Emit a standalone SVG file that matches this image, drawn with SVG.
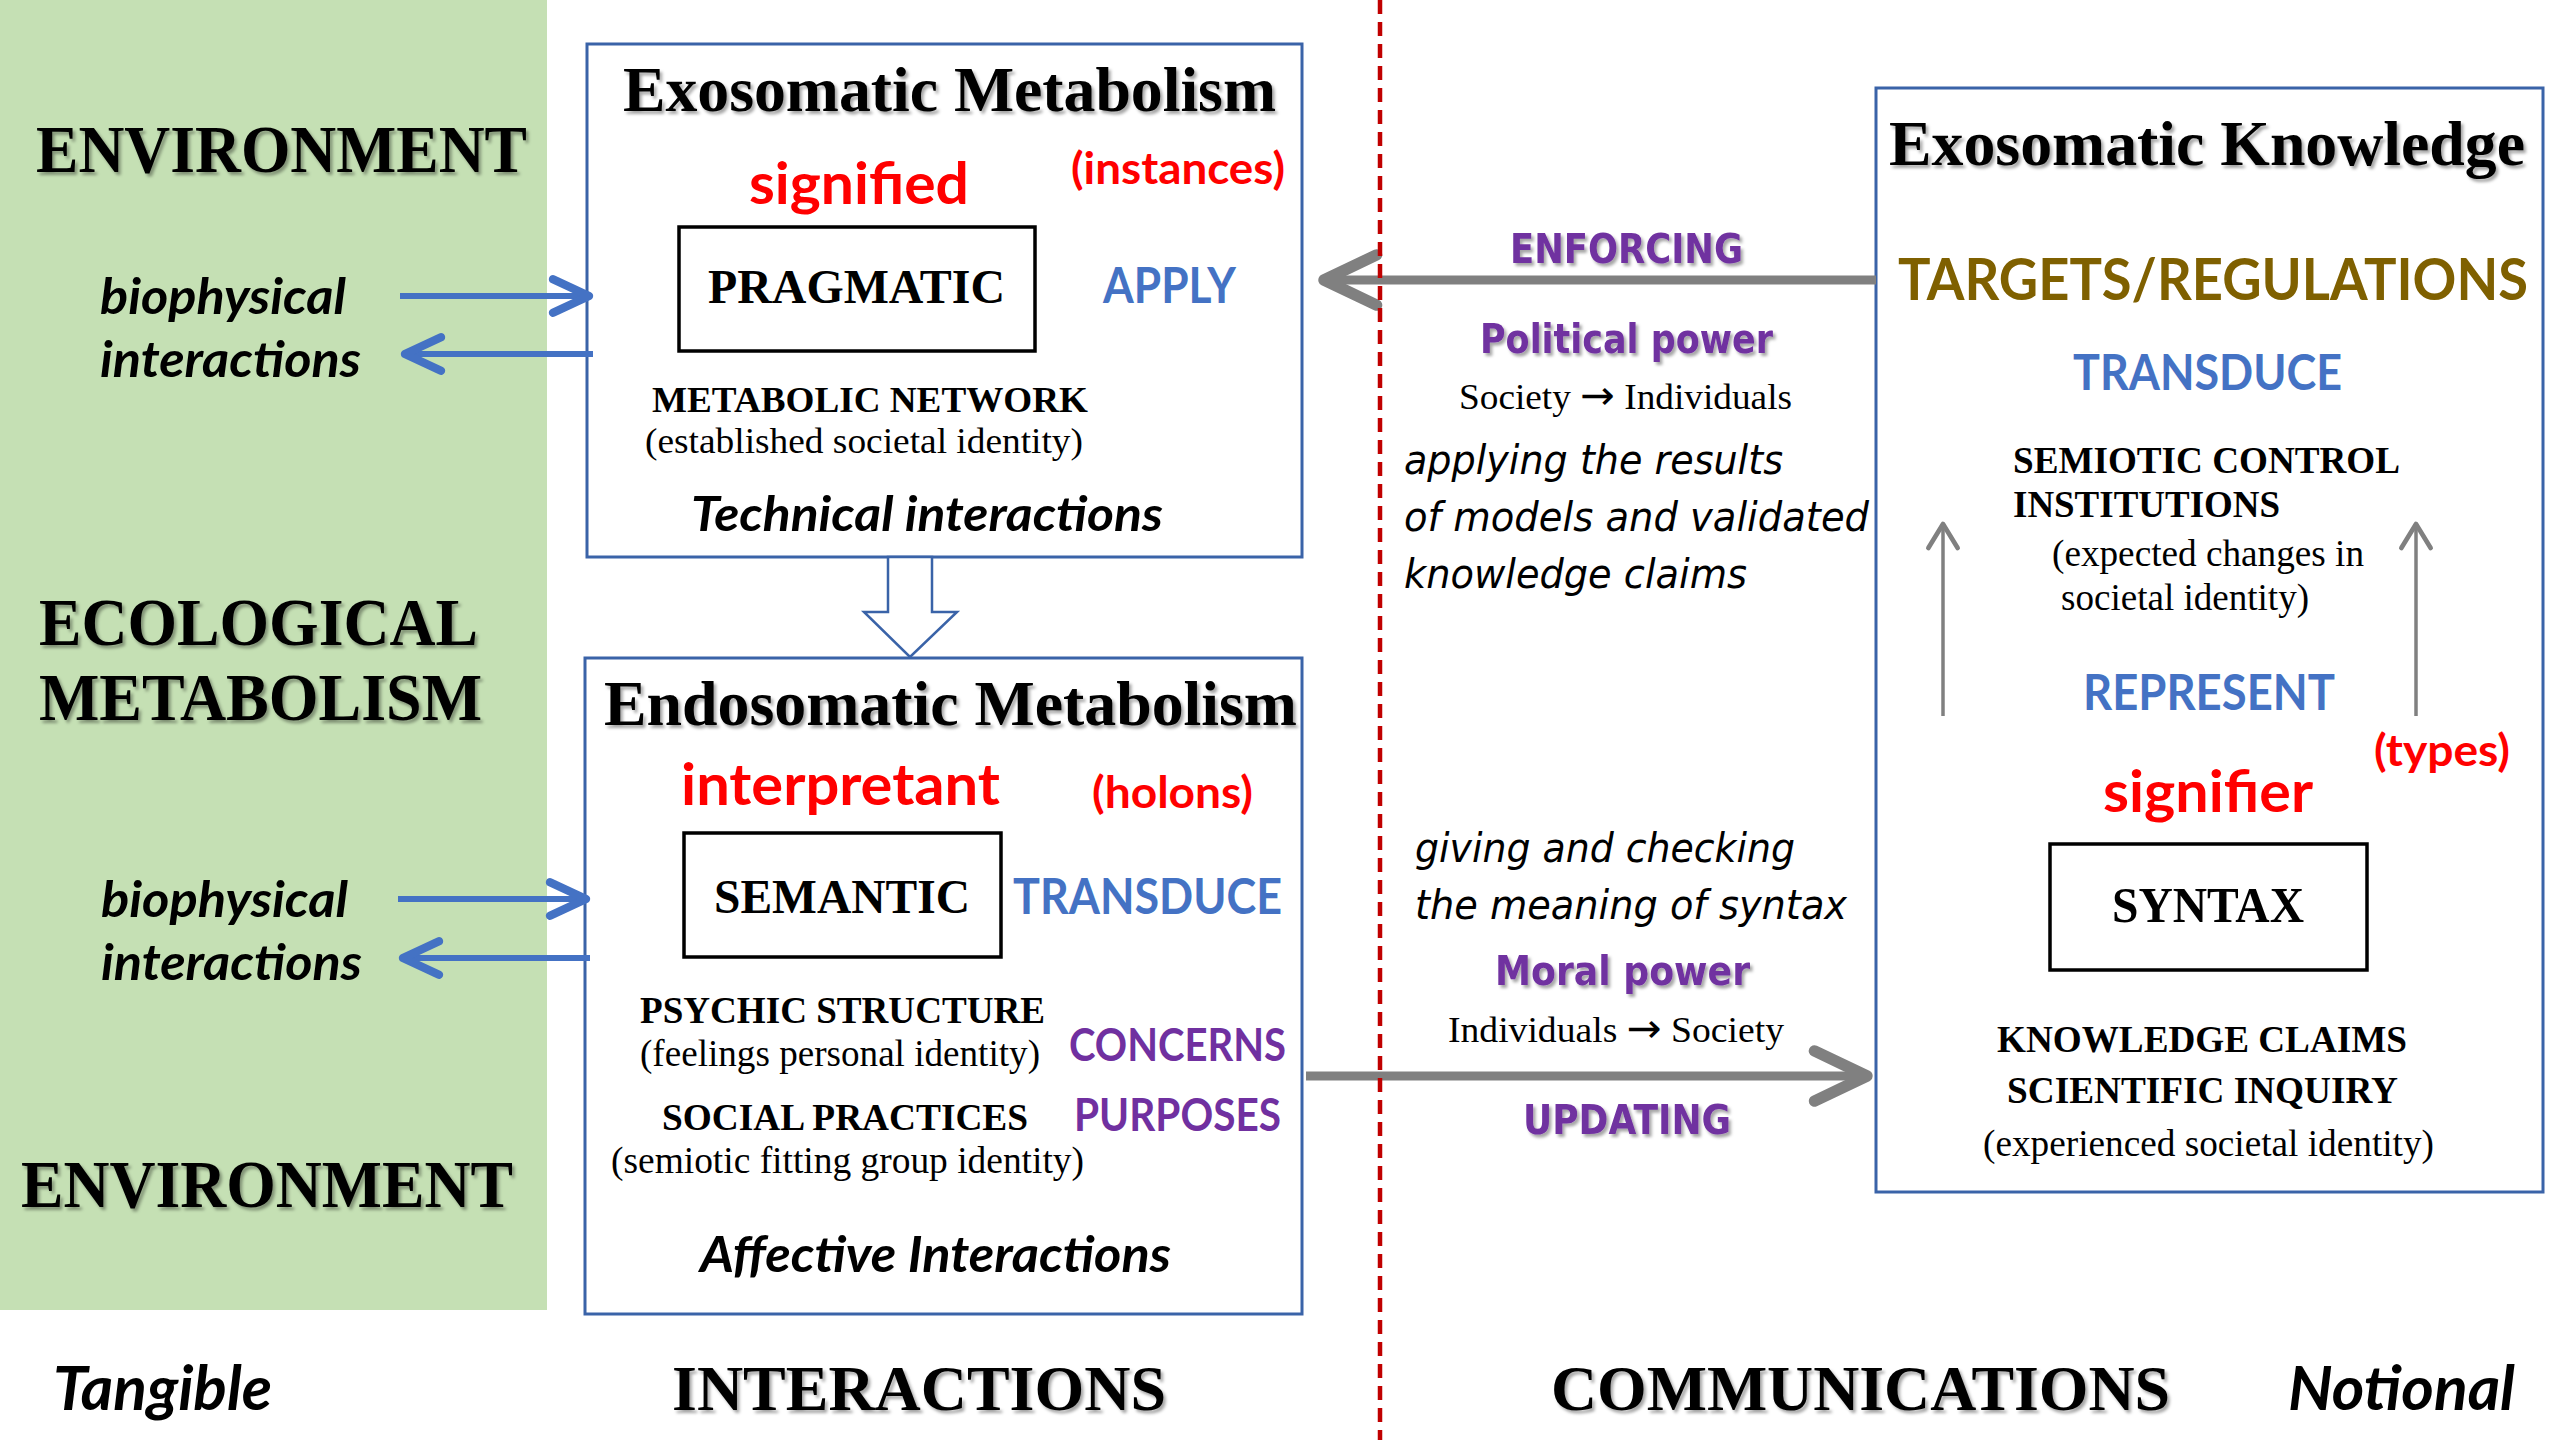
<svg xmlns="http://www.w3.org/2000/svg" width="2560" height="1440" viewBox="0 0 2560 1440">
<style>
text{dominant-baseline:alphabetic}
.sb{font-family:"Liberation Serif","Times New Roman",serif;font-weight:bold;fill:#000}
.sr{font-family:"Liberation Serif","Times New Roman",serif;fill:#000}
.cb{font-family:Lato,"Open Sans",sans-serif;font-weight:bold}
.cbi{font-family:Lato,"Open Sans",sans-serif;font-weight:bold;font-style:italic;fill:#000}
.vb{font-family:"DejaVu Sans",Verdana,sans-serif;font-weight:bold;fill:#7030A0}
.vi{font-family:"DejaVu Sans",Verdana,sans-serif;font-style:italic;fill:#000}
.arr{font-family:"DejaVu Sans",sans-serif;font-size:40px}
.red{fill:#FF0000}
.blue{fill:#4472C4}
.purple{fill:#7030A0}
.olive{fill:#7F6000}
.box{fill:#fff;stroke:#3A63A8;stroke-width:3}
.inner{fill:#fff;stroke:#000;stroke-width:3.5}
.barrow{fill:none;stroke:#4472C4;stroke-width:6}
.garrow{fill:none;stroke:#808080;stroke-width:9}
.gthin{fill:none;stroke:#808080;stroke-width:3.5}
</style>
<defs>
<filter id="sh" x="-5%" y="-20%" width="110%" height="150%">
<feDropShadow dx="2.5" dy="3" stdDeviation="1.5" flood-color="#000" flood-opacity="0.35"/>
</filter>
<marker id="mb" markerUnits="userSpaceOnUse" markerWidth="60" markerHeight="60" viewBox="-40 -20 50 40" refX="0" refY="0" orient="auto" overflow="visible">
<path d="M-30,-14 L0,0 L-30,14" fill="none" stroke="#4472C4" stroke-width="7" stroke-linecap="round" stroke-linejoin="round"/>
</marker>
<marker id="mg" markerUnits="userSpaceOnUse" markerWidth="80" markerHeight="80" viewBox="-60 -30 70 60" refX="0" refY="0" orient="auto" overflow="visible">
<path d="M-46,-22 L0,0 L-46,22" fill="none" stroke="#808080" stroke-width="10" stroke-linecap="round" stroke-linejoin="round"/>
</marker>
<marker id="mt" markerUnits="userSpaceOnUse" markerWidth="40" markerHeight="40" viewBox="-25 -15 30 30" refX="0" refY="0" orient="auto" overflow="visible">
<path d="M-18,-11 L0,0 L-18,11" fill="none" stroke="#808080" stroke-width="3.5" stroke-linecap="round" stroke-linejoin="round"/>
</marker>
</defs>
<rect x="0" y="0" width="2560" height="1440" fill="#fff"/>

<g id="environment-panel">
<rect x="0" y="0" width="547" height="1310" fill="#C5E0B4"/>
<text class="sb" x="36" y="172" font-size="68" textLength="491" lengthAdjust="spacingAndGlyphs" filter="url(#sh)">ENVIRONMENT</text>
<text class="cbi" x="100" y="314" font-size="50" textLength="246" lengthAdjust="spacingAndGlyphs">biophysical</text>
<text class="cbi" x="100" y="377" font-size="50" textLength="261" lengthAdjust="spacingAndGlyphs">interactions</text>
<text class="sb" x="39" y="645" font-size="68" textLength="439" lengthAdjust="spacingAndGlyphs" filter="url(#sh)">ECOLOGICAL</text>
<text class="sb" x="39" y="720" font-size="68" textLength="443" lengthAdjust="spacingAndGlyphs" filter="url(#sh)">METABOLISM</text>
<text class="cbi" x="101" y="917" font-size="50" textLength="247" lengthAdjust="spacingAndGlyphs">biophysical</text>
<text class="cbi" x="101" y="980" font-size="50" textLength="261" lengthAdjust="spacingAndGlyphs">interactions</text>
<text class="sb" x="21" y="1207" font-size="68" textLength="492" lengthAdjust="spacingAndGlyphs" filter="url(#sh)">ENVIRONMENT</text>
</g>

<g id="exosomatic-metabolism">
<rect class="box" x="587" y="44" width="715" height="513"/>
<text class="sb" x="623" y="111" font-size="63" textLength="653" lengthAdjust="spacingAndGlyphs" filter="url(#sh)">Exosomatic Metabolism</text>
<text class="cb red" x="749" y="204" font-size="58" textLength="220" lengthAdjust="spacingAndGlyphs">signified</text>
<text class="cb red" x="1071" y="184" font-size="44" textLength="214" lengthAdjust="spacingAndGlyphs">(instances)</text>
<rect class="inner" x="679" y="227" width="356" height="124"/>
<text class="sb" x="708" y="303" font-size="48" textLength="297" lengthAdjust="spacingAndGlyphs">PRAGMATIC</text>
<text class="cb blue" x="1103" y="303" font-size="50" textLength="133" lengthAdjust="spacingAndGlyphs">APPLY</text>
<text class="sb" x="652" y="412" font-size="36" textLength="436" lengthAdjust="spacingAndGlyphs">METABOLIC NETWORK</text>
<text class="sr" x="645" y="453" font-size="36" textLength="438" lengthAdjust="spacingAndGlyphs">(established societal identity)</text>
<text class="cbi" x="691" y="531" font-size="48" textLength="472" lengthAdjust="spacingAndGlyphs">Technical interactions</text>
</g>

<g id="endosomatic-metabolism">
<rect class="box" x="585" y="658" width="717" height="656"/>
<text class="sb" x="604" y="725" font-size="64" textLength="693" lengthAdjust="spacingAndGlyphs" filter="url(#sh)">Endosomatic Metabolism</text>
<text class="cb red" x="681" y="805" font-size="58" textLength="319" lengthAdjust="spacingAndGlyphs">interpretant</text>
<text class="cb red" x="1092" y="808" font-size="44" textLength="161" lengthAdjust="spacingAndGlyphs">(holons)</text>
<rect class="inner" x="684" y="833" width="317" height="124"/>
<text class="sb" x="714" y="913" font-size="48" textLength="256" lengthAdjust="spacingAndGlyphs">SEMANTIC</text>
<text class="cb blue" x="1013" y="914" font-size="50" textLength="269" lengthAdjust="spacingAndGlyphs">TRANSDUCE</text>
<text class="sb" x="640" y="1023" font-size="38" textLength="405" lengthAdjust="spacingAndGlyphs">PSYCHIC STRUCTURE</text>
<text class="sr" x="640" y="1066" font-size="38" textLength="400" lengthAdjust="spacingAndGlyphs">(feelings personal identity)</text>
<text class="cb purple" x="1069" y="1061" font-size="46" textLength="217" lengthAdjust="spacingAndGlyphs">CONCERNS</text>
<text class="sb" x="662" y="1130" font-size="38" textLength="366" lengthAdjust="spacingAndGlyphs">SOCIAL PRACTICES</text>
<text class="cb purple" x="1074" y="1131" font-size="46" textLength="207" lengthAdjust="spacingAndGlyphs">PURPOSES</text>
<text class="sr" x="611" y="1173" font-size="38" textLength="473" lengthAdjust="spacingAndGlyphs">(semiotic fitting group identity)</text>
<text class="cbi" x="700" y="1272" font-size="50" textLength="471" lengthAdjust="spacingAndGlyphs">Affective Interactions</text>
</g>

<g id="exosomatic-knowledge">
<rect class="box" x="1876" y="88" width="667" height="1104"/>
<text class="sb" x="1889" y="165" font-size="64" textLength="636" lengthAdjust="spacingAndGlyphs" filter="url(#sh)">Exosomatic Knowledge</text>
<text class="cb olive" x="1898" y="300" font-size="58" textLength="630" lengthAdjust="spacingAndGlyphs">TARGETS/REGULATIONS</text>
<text class="cb blue" x="2073" y="390" font-size="50" textLength="269" lengthAdjust="spacingAndGlyphs">TRANSDUCE</text>
<text class="sb" x="2013" y="473" font-size="38" textLength="387" lengthAdjust="spacingAndGlyphs">SEMIOTIC CONTROL</text>
<text class="sb" x="2013" y="517" font-size="38" textLength="267" lengthAdjust="spacingAndGlyphs">INSTITUTIONS</text>
<text class="sr" x="2052" y="566" font-size="38" textLength="312" lengthAdjust="spacingAndGlyphs">(expected changes in</text>
<text class="sr" x="2061" y="610" font-size="38" textLength="248" lengthAdjust="spacingAndGlyphs">societal identity)</text>
<text class="cb blue" x="2083" y="710" font-size="50" textLength="252" lengthAdjust="spacingAndGlyphs">REPRESENT</text>
<text class="cb red" x="2374" y="766" font-size="44" textLength="136" lengthAdjust="spacingAndGlyphs">(types)</text>
<text class="cb red" x="2103" y="812" font-size="58" textLength="210" lengthAdjust="spacingAndGlyphs">signifier</text>
<rect class="inner" x="2050" y="844" width="317" height="126"/>
<text class="sb" x="2112" y="922" font-size="50" textLength="192" lengthAdjust="spacingAndGlyphs">SYNTAX</text>
<text class="sb" x="1997" y="1052" font-size="38" textLength="410" lengthAdjust="spacingAndGlyphs">KNOWLEDGE CLAIMS</text>
<text class="sb" x="2007" y="1103" font-size="38" textLength="391" lengthAdjust="spacingAndGlyphs">SCIENTIFIC INQUIRY</text>
<text class="sr" x="1983" y="1156" font-size="38" textLength="451" lengthAdjust="spacingAndGlyphs">(experienced societal identity)</text>
</g>

<g id="communication-labels">
<text class="vb" x="1510" y="263" font-size="40" textLength="233" lengthAdjust="spacingAndGlyphs" filter="url(#sh)">ENFORCING</text>
<text class="vb" x="1480" y="353" font-size="40" textLength="293" lengthAdjust="spacingAndGlyphs" filter="url(#sh)">Political power</text>
<text class="sr" x="1459" y="409" font-size="36" textLength="333" lengthAdjust="spacingAndGlyphs">Society <tspan class="arr">→</tspan> Individuals</text>
<text class="vi" x="1404" y="474" font-size="40" textLength="379" lengthAdjust="spacingAndGlyphs">applying the results</text>
<text class="vi" x="1404" y="531" font-size="40" textLength="465" lengthAdjust="spacingAndGlyphs">of models and validated</text>
<text class="vi" x="1404" y="588" font-size="40" textLength="343" lengthAdjust="spacingAndGlyphs">knowledge claims</text>
<text class="vi" x="1415" y="862" font-size="40" textLength="380" lengthAdjust="spacingAndGlyphs">giving and checking</text>
<text class="vi" x="1415" y="919" font-size="40" textLength="432" lengthAdjust="spacingAndGlyphs">the meaning of syntax</text>
<text class="vb" x="1495" y="985" font-size="40" textLength="255" lengthAdjust="spacingAndGlyphs" filter="url(#sh)">Moral power</text>
<text class="sr" x="1448" y="1042" font-size="36" textLength="336" lengthAdjust="spacingAndGlyphs">Individuals <tspan class="arr">→</tspan> Society</text>
<text class="vb" x="1523" y="1134" font-size="40" textLength="208" lengthAdjust="spacingAndGlyphs" filter="url(#sh)">UPDATING</text>
</g>

<g id="bottom-labels">
<text class="cbi" x="53" y="1410" font-size="62" textLength="219" lengthAdjust="spacingAndGlyphs">Tangible</text>
<text class="sb" x="672" y="1410" font-size="64" textLength="494" lengthAdjust="spacingAndGlyphs" filter="url(#sh)">INTERACTIONS</text>
<text class="sb" x="1551" y="1410" font-size="64" textLength="619" lengthAdjust="spacingAndGlyphs" filter="url(#sh)">COMMUNICATIONS</text>
<text class="cbi" x="2288" y="1410" font-size="62" textLength="227" lengthAdjust="spacingAndGlyphs">Notional</text>
</g>

<g id="connectors">
<line class="barrow" x1="400" y1="296" x2="589" y2="296" marker-end="url(#mb)"/>
<line class="barrow" x1="593" y1="354" x2="405" y2="354" marker-end="url(#mb)"/>
<line class="barrow" x1="398" y1="899" x2="586" y2="899" marker-end="url(#mb)"/>
<line class="barrow" x1="590" y1="958" x2="403" y2="958" marker-end="url(#mb)"/>
<polygon points="888,557 932,557 932,612 957,612 910,657 864,612 888,612" fill="#fff" stroke="#3A63A8" stroke-width="2.5"/>
<line class="garrow" x1="1876" y1="280" x2="1324" y2="280" marker-end="url(#mg)"/>
<line class="garrow" x1="1306" y1="1076" x2="1867" y2="1076" marker-end="url(#mg)"/>
<line class="gthin" x1="1943" y1="716" x2="1943" y2="524" marker-end="url(#mt)"/>
<line class="gthin" x1="2416" y1="716" x2="2416" y2="524" marker-end="url(#mt)"/>
<line x1="1380" y1="0" x2="1380" y2="1440" stroke="#C00000" stroke-width="4.5" stroke-dasharray="14 8"/>
</g>
</svg>
